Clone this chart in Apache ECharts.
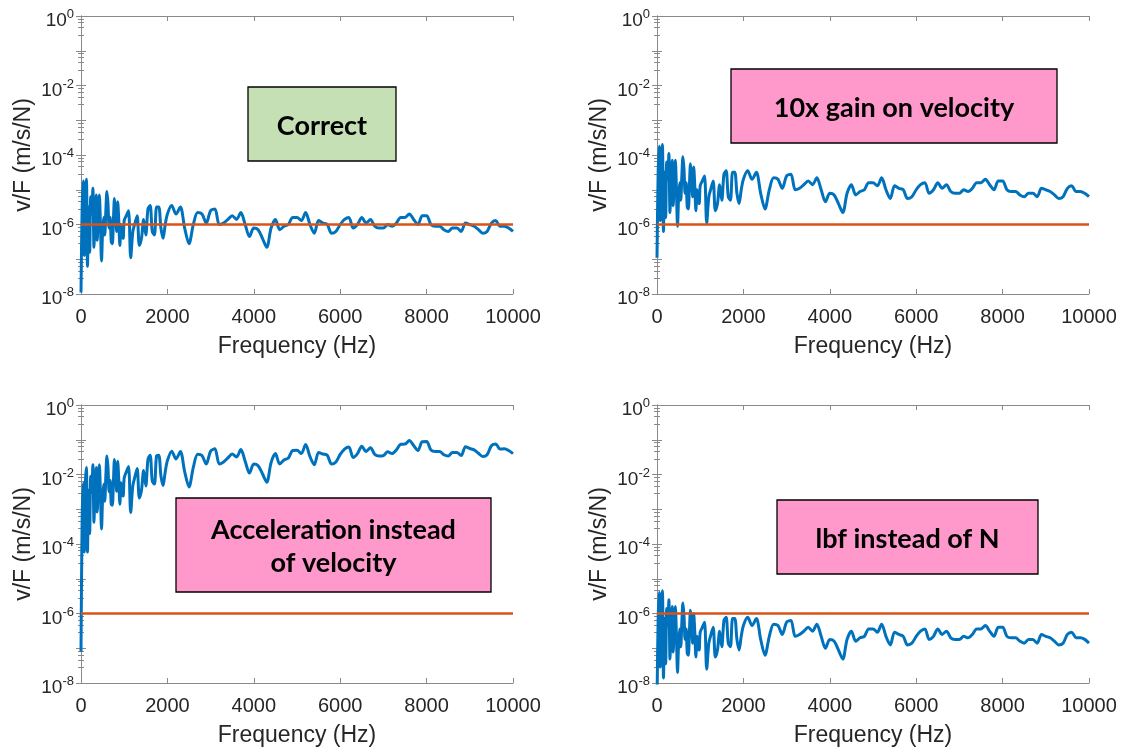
<!DOCTYPE html>
<html lang="en">
<head>
<meta charset="UTF-8">
<title>v/F vs frequency</title>
<style>
  html, body { margin: 0; padding: 0; background: #fff; }
  #chart { width: 1126px; height: 751px; }
</style>
<script src="https://cdn.jsdelivr.net/npm/echarts/dist/echarts.min.js"></script>
</head>
<body>
<div id="chart"></div>
<script>
// frequency samples (Hz), shared by all four panels
var freqHz = [0,25,50,75,100,125,150,175,200,225,250,275,300,325,350,375,400,425,450,475,
  500,525,550,575,600,625,650,675,700,725,750,775,800,825,850,875,900,925,950,975,1000,
  1050,1100,1150,1200,1250,1300,1350,1400,1450,1500,1550,1600,1650,1700,1750,1800,1850,1900,1950,2000,
  2100,2200,2300,2400,2500,2600,2700,2800,2900,3000,3100,3200,3300,3400,3500,3600,3700,3800,3900,4000,
  4100,4200,4300,4400,4500,4600,4700,4800,4900,5000,5100,5200,5300,5400,5500,5600,5700,5800,5900,6000,
  6100,6200,6300,6400,6500,6600,6700,6800,6900,7000,7100,7200,7300,7400,7500,7600,7700,7800,7900,8000,
  8100,8200,8300,8400,8500,8600,8700,8800,8900,9000,9100,9200,9300,9400,9500,9600,9700,9800,9900,10000];

// v/F (m/s/N)
var correct = [1.1e-8,2.5e-6,1.8e-5,1.3e-7,7.9e-6,2.0e-5,6.3e-8,3.2e-6,1.6e-7,6.3e-6,
  2.0e-6,1.1e-5,2.2e-7,2.5e-6,7.1e-6,3.5e-7,2.0e-6,7.1e-6,1.0e-6,8.9e-8,
  6.3e-7,1.6e-6,5.0e-7,2.5e-6,8.9e-6,4.0e-6,7.9e-7,1.6e-6,3.2e-7,2.8e-7,
  1.3e-6,5.6e-6,2.5e-6,6.3e-7,4.5e-6,1.3e-6,2.5e-7,1.0e-6,4.5e-7,4.0e-7,
  1.3e-6,1.8e-6,2.5e-6,1.1e-7,6.3e-7,1.1e-6,1.8e-6,2.5e-7,4.0e-7,1.4e-6,
  5.0e-7,2.8e-6,3.5e-6,6.3e-7,5.0e-7,3.2e-6,3.2e-6,7.9e-7,4.0e-7,1.0e-6,
  2.0e-6,3.5e-6,2.0e-6,3.2e-6,7.9e-7,2.8e-7,1.0e-6,2.2e-6,2.0e-6,1.1e-6,
  2.5e-6,2.8e-6,1.0e-6,1.1e-6,1.4e-6,1.8e-6,1.4e-6,2.2e-6,1.0e-6,4.5e-7,
  7.9e-7,7.1e-7,4.0e-7,2.2e-7,7.9e-7,1.4e-6,7.1e-7,8.9e-7,1.0e-6,1.6e-6,
  1.6e-6,1.3e-6,2.2e-6,1.0e-6,5.6e-7,1.3e-6,1.1e-6,1.0e-6,5.6e-7,6.3e-7,
  1.0e-6,1.4e-6,1.6e-6,7.9e-7,1.0e-6,1.6e-6,1.1e-6,1.4e-6,8.9e-7,7.9e-7,
  7.9e-7,1.0e-6,8.9e-7,1.1e-6,1.6e-6,1.6e-6,2.0e-6,1.4e-6,1.0e-6,1.8e-6,
  1.8e-6,1.0e-6,8.9e-7,8.9e-7,7.1e-7,6.3e-7,7.9e-7,7.9e-7,6.3e-7,1.1e-6,
  1.0e-6,8.9e-7,7.1e-7,5.6e-7,6.3e-7,1.1e-6,1.3e-6,8.9e-7,8.9e-7,7.9e-7,6.3e-7];

var gainOnVelocity = [1.1e-7,2.5e-5,1.8e-4,1.3e-6,7.9e-5,2.0e-4,6.3e-7,3.2e-5,1.6e-6,6.3e-5,
  2.0e-5,1.1e-4,2.2e-6,2.5e-5,7.1e-5,3.5e-6,2.0e-5,7.1e-5,1.0e-5,8.9e-7,
  6.3e-6,1.6e-5,5.0e-6,2.5e-5,8.9e-5,4.0e-5,7.9e-6,1.6e-5,3.2e-6,2.8e-6,
  1.3e-5,5.6e-5,2.5e-5,6.3e-6,4.5e-5,1.3e-5,2.5e-6,1.0e-5,4.5e-6,4.0e-6,
  1.3e-5,1.8e-5,2.5e-5,1.1e-6,6.3e-6,1.1e-5,1.8e-5,2.5e-6,4.0e-6,1.4e-5,
  5.0e-6,2.8e-5,3.5e-5,6.3e-6,5.0e-6,3.2e-5,3.2e-5,7.9e-6,4.0e-6,1.0e-5,
  2.0e-5,3.5e-5,2.0e-5,3.2e-5,7.9e-6,2.8e-6,1.0e-5,2.2e-5,2.0e-5,1.1e-5,
  2.5e-5,2.8e-5,1.0e-5,1.1e-5,1.4e-5,1.8e-5,1.4e-5,2.2e-5,1.0e-5,4.5e-6,
  7.9e-6,7.1e-6,4.0e-6,2.2e-6,7.9e-6,1.4e-5,7.1e-6,8.9e-6,1.0e-5,1.6e-5,
  1.6e-5,1.3e-5,2.2e-5,1.0e-5,5.6e-6,1.3e-5,1.1e-5,1.0e-5,5.6e-6,6.3e-6,
  1.0e-5,1.4e-5,1.6e-5,7.9e-6,1.0e-5,1.6e-5,1.1e-5,1.4e-5,8.9e-6,7.9e-6,
  7.9e-6,1.0e-5,8.9e-6,1.1e-5,1.6e-5,1.6e-5,2.0e-5,1.4e-5,1.0e-5,1.8e-5,
  1.8e-5,1.0e-5,8.9e-6,8.9e-6,7.1e-6,6.3e-6,7.9e-6,7.9e-6,6.3e-6,1.1e-5,
  1.0e-5,8.9e-6,7.1e-6,5.6e-6,6.3e-6,1.1e-5,1.3e-5,8.9e-6,8.9e-6,7.9e-6,6.3e-6];

var accelInstead = [7.9e-8,4.0e-4,5.6e-3,5.9e-5,5.0e-3,1.6e-2,5.9e-5,3.5e-3,2.0e-4,8.9e-3,
  3.1e-3,1.9e-2,4.2e-4,5.1e-3,1.6e-2,8.4e-4,5.0e-3,1.9e-2,2.8e-3,2.7e-4,
  2.0e-3,5.2e-3,1.7e-3,9.1e-3,3.4e-2,1.6e-2,3.2e-3,6.7e-3,1.4e-3,1.3e-3,
  5.9e-3,2.7e-2,1.3e-2,3.3e-3,2.4e-2,6.9e-3,1.4e-3,5.8e-3,2.7e-3,2.4e-3,
  7.9e-3,1.2e-2,1.7e-2,8.1e-4,4.8e-3,8.8e-3,1.5e-2,2.1e-3,3.5e-3,1.3e-2,
  4.7e-3,2.7e-2,3.6e-2,6.5e-3,5.3e-3,3.5e-2,3.6e-2,9.2e-3,4.8e-3,1.2e-2,
  2.5e-2,4.7e-2,2.8e-2,4.6e-2,1.2e-2,4.4e-3,1.6e-2,3.8e-2,3.5e-2,2.0e-2,
  4.7e-2,5.5e-2,2.0e-2,2.3e-2,3.0e-2,3.9e-2,3.2e-2,5.2e-2,2.4e-2,1.1e-2,
  2.0e-2,1.8e-2,1.05e-2,6.0e-3,2.2e-2,4.0e-2,2.0e-2,2.6e-2,3.0e-2,4.9e-2,
  5.0e-2,4.0e-2,7.3e-2,3.3e-2,1.9e-2,4.3e-2,3.9e-2,3.6e-2,2.0e-2,2.3e-2,
  3.8e-2,5.4e-2,6.2e-2,3.1e-2,4.0e-2,6.5e-2,4.6e-2,5.9e-2,3.8e-2,3.4e-2,
  3.5e-2,4.5e-2,4.0e-2,5.1e-2,7.4e-2,7.5e-2,9.5e-2,6.8e-2,4.9e-2,8.8e-2,
  8.9e-2,5.1e-2,4.6e-2,4.6e-2,3.7e-2,3.4e-2,4.3e-2,4.3e-2,3.5e-2,6.3e-2,
  5.6e-2,5.1e-2,4.1e-2,3.3e-2,3.7e-2,6.7e-2,7.6e-2,5.4e-2,5.5e-2,4.9e-2,4.0e-2];

var lbfInstead = [2.5e-9,5.6e-7,4.0e-6,2.9e-8,1.8e-6,4.5e-6,1.4e-8,7.2e-7,3.6e-8,1.4e-6,
  4.5e-7,2.5e-6,4.9e-8,5.6e-7,1.6e-6,7.8e-8,4.5e-7,1.6e-6,2.2e-7,2.0e-8,
  1.4e-7,3.6e-7,1.1e-7,5.6e-7,2.0e-6,8.9e-7,1.8e-7,3.6e-7,7.2e-8,6.3e-8,
  2.9e-7,1.25e-6,5.6e-7,1.4e-7,1.0e-6,2.9e-7,5.6e-8,2.2e-7,1.0e-7,8.9e-8,
  2.9e-7,4.0e-7,5.6e-7,2.5e-8,1.4e-7,2.5e-7,4.0e-7,5.6e-8,8.9e-8,3.1e-7,
  1.1e-7,6.3e-7,7.8e-7,1.4e-7,1.1e-7,7.2e-7,7.2e-7,1.8e-7,8.9e-8,2.2e-7,
  4.5e-7,7.8e-7,4.5e-7,7.2e-7,1.8e-7,6.3e-8,2.2e-7,4.9e-7,4.5e-7,2.5e-7,
  5.6e-7,6.3e-7,2.2e-7,2.5e-7,3.1e-7,4.0e-7,3.1e-7,4.9e-7,2.2e-7,1.0e-7,
  1.8e-7,1.6e-7,8.9e-8,4.9e-8,1.8e-7,3.1e-7,1.6e-7,2.0e-7,2.2e-7,3.6e-7,
  3.6e-7,2.9e-7,4.9e-7,2.2e-7,1.25e-7,2.9e-7,2.5e-7,2.2e-7,1.25e-7,1.4e-7,
  2.2e-7,3.1e-7,3.6e-7,1.8e-7,2.2e-7,3.6e-7,2.5e-7,3.1e-7,2.0e-7,1.8e-7,
  1.8e-7,2.2e-7,2.0e-7,2.5e-7,3.6e-7,3.6e-7,4.5e-7,3.1e-7,2.2e-7,4.0e-7,
  4.0e-7,2.2e-7,2.0e-7,2.0e-7,1.6e-7,1.4e-7,1.8e-7,1.8e-7,1.4e-7,2.5e-7,
  2.2e-7,2.0e-7,1.6e-7,1.25e-7,1.4e-7,2.5e-7,2.9e-7,2.0e-7,2.0e-7,1.8e-7,1.4e-7];

// orange reference level, one per panel
var referenceLevel = [1e-6, 1e-6, 1e-6, 1e-6];
var freqRange = [0, 10000];
var xTicks = [0, 2000, 4000, 6000, 8000, 10000];
var yTickExponents = [0, -2, -4, -6, -8];

var panels = [
  { values: correct,        left: 81,  top: 16,  note: 'Correct',
    box: [248, 87, 148, 74],  fill: '#C5E0B4' },
  { values: gainOnVelocity, left: 657, top: 16,  note: '10x gain on velocity',
    box: [731, 69, 326, 74],  fill: '#FF99CC' },
  { values: accelInstead,   left: 81,  top: 405, note: 'Acceleration instead\nof velocity',
    box: [176, 498, 315, 94], fill: '#FF99CC' },
  { values: lbfInstead,     left: 657, top: 405, note: 'lbf instead of N',
    box: [777, 500, 261, 74], fill: '#FF99CC' }
];

var axisGray = '#8a8a8a';
var textColor = '#262626';
var labelFont = '"Liberation Sans", Arial, Helvetica, sans-serif';

var grids = [], xAxes = [], yAxes = [], series = [], graphics = [];

function yLabel(v) {
  var e = Math.round(Math.log10(v));
  if (yTickExponents.indexOf(e) < 0) return '';
  return '{b|10}{sup|' + e + '}';
}

panels.forEach(function (p, i) {
  grids.push({ left: p.left, top: p.top, width: 432, height: 278 });

  xAxes.push({
    gridIndex: i, type: 'value', min: freqRange[0], max: freqRange[1], interval: 2000,
    name: 'Frequency (Hz)', nameLocation: 'middle', nameGap: 41,
    nameTextStyle: { fontSize: 23, color: textColor, fontFamily: labelFont },
    axisLine: { show: true, lineStyle: { color: axisGray, width: 1 } },
    axisTick: { show: true, inside: true, length: 5, lineStyle: { color: axisGray } },
    axisLabel: {
      fontSize: 20, color: textColor, fontFamily: labelFont, margin: 13,
      formatter: function (v) { return xTicks.indexOf(v) >= 0 ? String(v) : ''; }
    },
    splitLine: { show: false }
  });
  xAxes.push({
    gridIndex: i, type: 'value', min: freqRange[0], max: freqRange[1], interval: 2000,
    position: 'top',
    axisLine: { show: true, lineStyle: { color: axisGray, width: 1 } },
    axisTick: { show: true, inside: true, length: 5, lineStyle: { color: axisGray } },
    axisLabel: { show: false },
    splitLine: { show: false }
  });

  var yBase = {
    gridIndex: i, type: 'log', logBase: 10, min: 1e-8, max: 1,
    axisLine: { show: true, lineStyle: { color: axisGray, width: 1 } },
    axisTick: { show: true, inside: true, length: 5, lineStyle: { color: axisGray } },
    minorTick: { show: true, splitNumber: 5, length: 3, lineStyle: { color: axisGray } },
    splitLine: { show: false }
  };
  yAxes.push(Object.assign({}, yBase, {
    position: 'left',
    name: 'v/F (m/s/N)', nameLocation: 'middle', nameGap: 46,
    nameTextStyle: { fontSize: 23, color: textColor, fontFamily: labelFont },
    axisLabel: {
      formatter: yLabel, color: textColor, fontFamily: labelFont, margin: 7,
      rich: {
        b: { fontSize: 19, lineHeight: 19, padding: [10, 0, 0, 0],
             color: textColor, fontFamily: labelFont },
        sup: { fontSize: 13, lineHeight: 13, padding: [0, 0, 3, 0],
               color: textColor, fontFamily: labelFont }
      }
    }
  }));
  yAxes.push(Object.assign({}, yBase, { position: 'right', axisLabel: { show: false } }));

  series.push({
    type: 'line', xAxisIndex: 2 * i, yAxisIndex: 2 * i,
    data: freqHz.map(function (f, k) { return [f, p.values[k]]; }),
    showSymbol: false, clip: true, smooth: 0.3,
    lineStyle: { color: '#0072BD', width: 3 }, itemStyle: { color: '#0072BD' }
  });
  series.push({
    type: 'line', xAxisIndex: 2 * i, yAxisIndex: 2 * i,
    data: [[freqRange[0], referenceLevel[i]], [freqRange[1], referenceLevel[i]]],
    showSymbol: false,
    lineStyle: { color: '#D95319', width: 2.4 }, itemStyle: { color: '#D95319' }
  });

  var b = p.box;
  graphics.push({
    type: 'rect', shape: { x: b[0], y: b[1], width: b[2], height: b[3] },
    style: { fill: p.fill, stroke: '#000', lineWidth: 1.3 }, z: 10
  });
  graphics.push({
    type: 'text', x: b[0] + b[2] / 2, y: b[1] + b[3] / 2 + 2, z: 11,
    style: {
      text: p.note, fill: '#000', fontSize: 27, fontWeight: 'bold',
      fontFamily: 'Lato, "Open Sans", sans-serif', lineHeight: 33,
      align: 'center', verticalAlign: 'middle'
    }
  });
});

var myChart = echarts.init(document.getElementById('chart'));
myChart.setOption({
  animation: false,
  backgroundColor: '#fff',
  grid: grids,
  xAxis: xAxes,
  yAxis: yAxes,
  series: series,
  graphic: graphics
});
</script>
</body>
</html>
